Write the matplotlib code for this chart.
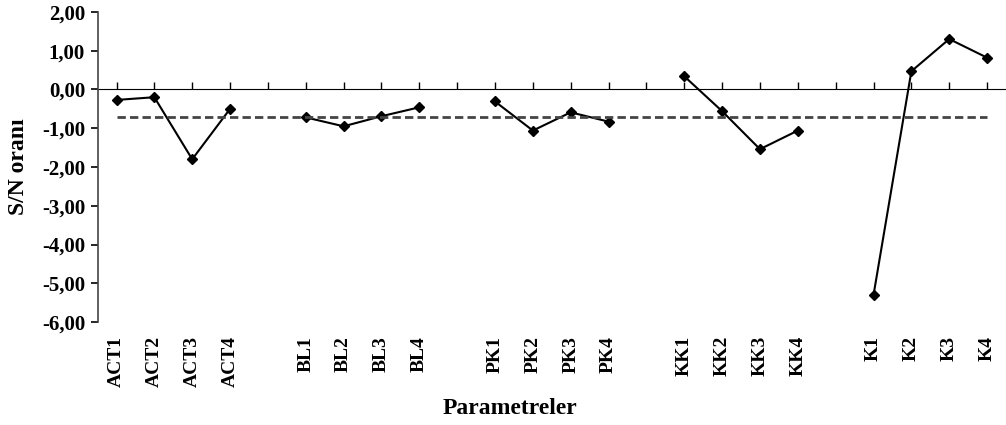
import matplotlib
matplotlib.use("Agg")
import matplotlib.pyplot as plt
from matplotlib.ticker import FuncFormatter

plt.rcParams['font.family'] = ['Liberation Serif', 'DejaVu Serif']
plt.rcParams['font.weight'] = 'bold'

# data (empty strings are the gaps between groups)
labels = ['ACT1', 'ACT2', 'ACT3', 'ACT4', '',
          'BL1', 'BL2', 'BL3', 'BL4', '',
          'PK1', 'PK2', 'PK3', 'PK4', '',
          'KK1', 'KK2', 'KK3', 'KK4', '',
          'K1', 'K2', 'K3', 'K4']
act = [-0.27, -0.20, -1.80, -0.50]
bl = [-0.72, -0.95, -0.69, -0.46]
pk = [-0.31, -1.06, -0.59, -0.83]
kk = [0.34, -0.56, -1.54, -1.06]
k = [-5.30, 0.47, 1.30, 0.82]
mean_sn = -0.70

groups = [act, bl, pk, kk, k]

fig = plt.figure(figsize=(10.06, 4.25), dpi=100)
ax = fig.add_axes([0.097, 0.242, 0.903, 0.730])

for i, g in enumerate(groups):
    xs = [i * 5 + j for j in range(len(g))]
    ax.plot(xs, g, color='black', lw=1.5, marker='D', ms=5.5)

ax.plot([0, len(labels) - 1], [mean_sn, mean_sn], color='#444444', lw=2, ls=(0, (3, 1.5)))

ax.set_xlim(-0.5, len(labels) - 0.5)
ax.set_ylim(-6, 2)
ax.set_yticks(range(-6, 3))
ax.yaxis.set_major_formatter(FuncFormatter(lambda v, p: f"{v:.2f}".replace('.', ',')))
ax.tick_params(axis='y', labelsize=15, direction='out', length=5, width=1.2, pad=4)

ax.set_xticks(range(len(labels)))
ax.set_xticklabels(labels, rotation=90, fontsize=14)
ax.tick_params(axis='x', length=0, pad=10)

for s in ['top', 'right', 'bottom']:
    ax.spines[s].set_visible(False)
ax.spines['left'].set_linewidth(1.2)
ax.spines['left'].set_color('#444444')

# horizontal axis line at zero with its tick marks
sec = ax.secondary_xaxis(0.75)
sec.set_xticks(range(len(labels)))
sec.tick_params(axis='x', direction='out', length=5, width=1, labelbottom=False, labeltop=False)
sec.spines['bottom'].set_linewidth(1.2)
sec.spines['bottom'].set_color('#444444')

fig.text(0.018, 0.607, 'S/N oranı', fontsize=17, fontweight='bold', rotation=90,
         ha='center', va='center')
fig.text(0.507, 0.040, 'Parametreler', fontsize=17, fontweight='bold',
         ha='center', va='center')

fig.savefig('out.png', dpi=100)
